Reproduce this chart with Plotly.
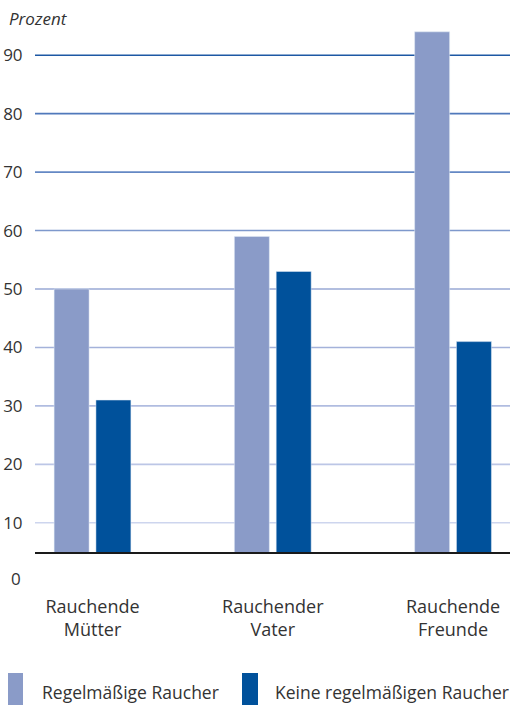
import plotly.graph_objects as go

categories = ["Rauchende<br>Mütter", "Rauchender<br>Vater", "Rauchende<br>Freunde"]
series_names = ["Regelmäßige Raucher", "Keine regelmäßigen Raucher"]
regelmaessig = [50, 59, 94]
keine = [31, 53, 41]
y_ticks = [10, 20, 30, 40, 50, 60, 70, 80, 90]
grid_colors = ["#cdd5ee", "#bcc6e6", "#b0bce0", "#a4b2da", "#98a8d5",
               "#7e98cc", "#6488c4", "#5079bb", "#1d58a4"]
bar_colors = ["#8a9bc8", "#00519b"]

FONT = "Open Sans"
TXT = "#333333"

x = list(range(len(categories)))
fig = go.Figure()
fig.add_trace(go.Bar(x=x, y=regelmaessig, name=series_names[0], marker_color=bar_colors[0],
                     width=0.194, offset=-0.213, showlegend=False))
fig.add_trace(go.Bar(x=x, y=keine, name=series_names[1], marker_color=bar_colors[1],
                     width=0.194, offset=0.019, showlegend=False))

shapes = []
for v, c in zip(y_ticks, grid_colors):
    shapes.append(dict(type="line", xref="paper", x0=0, x1=1, yref="y", y0=v, y1=v,
                       line=dict(color=c, width=1.6), layer="below"))

# custom legend swatches
leg_x = [(8, 23), (242, 258)]
for (a, b), c in zip(leg_x, bar_colors):
    shapes.append(dict(type="rect", xref="paper", yref="paper",
                       x0=(a - 35) / 475, x1=(b - 35) / 475,
                       y0=(552 - 708) / 526, y1=(552 - 673) / 526,
                       fillcolor=c, line=dict(width=0)))

annotations = [
    dict(text="<i>Prozent</i>", xref="paper", yref="paper", x=(7 - 35) / 475, y=(552 - 18) / 526,
         xanchor="left", yanchor="middle", showarrow=False, font=dict(family=FONT, size=17, color=TXT)),
    dict(text="0", xref="paper", yref="paper", x=(23 - 35) / 475, y=(552 - 578) / 526,
         xanchor="right", yanchor="middle", showarrow=False, font=dict(family=FONT, size=17, color=TXT)),
]
for tx, name in zip([40, 273], series_names):
    annotations.append(dict(text=name, xref="paper", yref="paper", x=(tx - 35) / 475,
                            y=(552 - 692) / 526, xanchor="left", yanchor="middle", showarrow=False,
                            font=dict(family=FONT, size=17.5, color=TXT)))

fig.update_layout(
    width=513, height=705,
    margin=dict(l=35, r=3, t=26, b=153),
    paper_bgcolor="white", plot_bgcolor="white",
    shapes=shapes, annotations=annotations,
    font=dict(family=FONT, size=16, color=TXT),
    xaxis=dict(range=[-0.319, 2.316], tickvals=x, ticktext=categories, showgrid=False,
               zeroline=False, showline=True, linecolor="#1a1a1a", linewidth=2,
               ticks="outside", ticklen=37, tickcolor="rgba(0,0,0,0)",
               tickfont=dict(family=FONT, size=18, color=TXT)),
    yaxis=dict(range=[5, 95], tickvals=y_ticks, showgrid=False, zeroline=False,
               ticks="outside", ticklen=8, tickcolor="rgba(0,0,0,0)",
               tickfont=dict(family=FONT, size=17, color=TXT)),
)

fig.write_html("out.html", config={"displayModeBar": False},
               post_script="document.body.style.margin='0';document.body.style.overflow='hidden';")
